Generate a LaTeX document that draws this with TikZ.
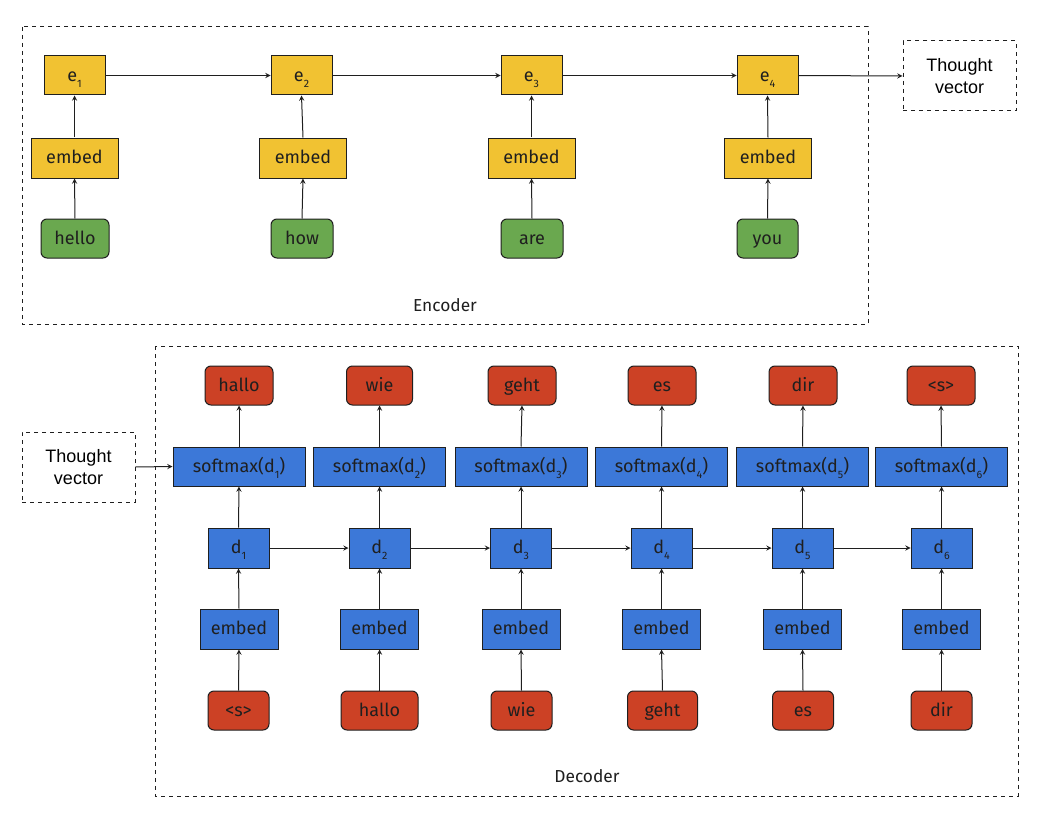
\documentclass[tikz,border=0pt]{standalone}
\usepackage{fontspec}
\setmainfont{Fira Sans}
\newfontfamily\arialfont{Liberation Sans}
\usetikzlibrary{arrows.meta}
\definecolor{encyellow}{HTML}{F1C232}
\definecolor{wordgreen}{HTML}{6AA84F}
\definecolor{decblue}{HTML}{3C78D8}
\definecolor{wordred}{HTML}{CC4125}
\definecolor{inkdark}{HTML}{1F1F1F}
\newcommand{\px}{0.75pt}
\newcommand{\sub}[1]{\raisebox{-0.6ex}{\footnotesize #1}}

\tikzset{
    box/.style={draw=inkdark, line width=\px, inner sep=0pt, text=inkdark,
        font=\fontsize{13.5}{16}\selectfont, text height=1.8ex, text depth=0.1ex,
        minimum height=39*\px},
    encstate/.style={box, fill=encyellow, minimum width=61*\px},
    encembed/.style={box, fill=encyellow, minimum width=87*\px, minimum height=40*\px},
    encword/.style={box, fill=wordgreen, rounded corners=4.5pt, minimum width=68*\px},
    decword/.style={box, fill=wordred, rounded corners=4.5pt, minimum width=61*\px},
    decsoft/.style={box, fill=decblue, minimum width=132*\px},
    decstate/.style={box, fill=decblue, minimum width=61*\px, minimum height=40*\px},
    decembed/.style={box, fill=decblue, minimum width=78*\px, minimum height=40*\px},
    thought/.style={draw=inkdark, dashed, line width=\px, align=center, inner sep=0pt,
        minimum width=113*\px, minimum height=70*\px,
        font=\arialfont\fontsize{13.5}{16.5}\selectfont},
    frame/.style={draw=inkdark, dashed, line width=\px},
    link/.style={-stealth, line width=\px, draw=inkdark},
}

\begin{document}
\begin{tikzpicture}[x=\px, y=-\px]
    \useasboundingbox (0,0) rectangle (1043,824);

    % encoder
    \draw[frame] (22,27) rectangle (868,324);
    \node[font=\fontsize{13}{15}\selectfont, text=inkdark] (enclabel) at (445,305) {Encoder};

    \node[encstate] (e1) at (74.5,75.5) {e\sub{1}};
    \node[encstate] (e2) at (301.5,75.5) {e\sub{2}};
    \node[encstate] (e3) at (531.5,75.5) {e\sub{3}};
    \node[encstate] (e4) at (767.5,75.5) {e\sub{4}};

    \node[encembed] (embed1) at (74.5,158) {embed};
    \node[encembed] (embed2) at (303,158) {embed};
    \node[encembed] (embed3) at (531.5,158) {embed};
    \node[encembed] (embed4) at (768,158) {embed};

    \node[encword] (hello) at (75,238.5) {hello};
    \node[encword, minimum width=62*\px] (how) at (302,238.5) {how};
    \node[encword, minimum width=62*\px] (are) at (532,238.5) {are};
    \node[encword, minimum width=61*\px] (you) at (767.5,238.5) {you};

    \node[thought] (thought1) at (959.5,76) {Thought\\vector};

    \draw[link] (hello.north) -- (embed1.south);
    \draw[link] (how.north) -- (embed2.south);
    \draw[link] (are.north) -- (embed3.south);
    \draw[link] (you.north) -- (embed4.south);
    \draw[link] (embed1.north) -- (e1.south);
    \draw[link] (embed2.north) -- (e2.south);
    \draw[link] (embed3.north) -- (e3.south);
    \draw[link] (embed4.north) -- (e4.south);
    \draw[link] (e1.east) -- (e2.west);
    \draw[link] (e2.east) -- (e3.west);
    \draw[link] (e3.east) -- (e4.west);
    \draw[link] (e4.east) -- (thought1.west);

    % decoder
    \draw[frame] (155,346) rectangle (1018,796);
    \node[font=\fontsize{13}{15}\selectfont, text=inkdark] (declabel) at (587,776) {Decoder};

    \node[thought] (thought2) at (78.5,467) {Thought\\vector};

    \node[decword, minimum width=68*\px] (out1) at (239,385.5) {hallo};
    \node[decword, minimum width=66*\px] (out2) at (379.5,385.5) {wie};
    \node[decword, minimum width=68*\px] (out3) at (522,385.5) {geht};
    \node[decword, minimum width=68*\px] (out4) at (662,385.5) {es};
    \node[decword, minimum width=68*\px] (out5) at (803,385.5) {dir};
    \node[decword, minimum width=68*\px] (out6) at (941,385.5) {<s>};

    \node[decsoft] (soft1) at (239,466.5) {softmax(d\sub{1})};
    \node[decsoft] (soft2) at (379.5,466.5) {softmax(d\sub{2})};
    \node[decsoft] (soft3) at (521,466.5) {softmax(d\sub{3})};
    \node[decsoft] (soft4) at (661.5,466.5) {softmax(d\sub{4})};
    \node[decsoft] (soft5) at (802.5,466.5) {softmax(d\sub{5})};
    \node[decsoft] (soft6) at (941.5,466.5) {softmax(d\sub{6})};

    \node[decstate] (d1) at (238.5,548) {d\sub{1}};
    \node[decstate] (d2) at (379.5,548) {d\sub{2}};
    \node[decstate] (d3) at (521,548) {d\sub{3}};
    \node[decstate] (d4) at (661.5,548) {d\sub{4}};
    \node[decstate] (d5) at (802.5,548) {d\sub{5}};
    \node[decstate] (d6) at (941.5,548) {d\sub{6}};

    \node[decembed] (dembed1) at (239,629) {embed};
    \node[decembed] (dembed2) at (379.5,629) {embed};
    \node[decembed] (dembed3) at (521,629) {embed};
    \node[decembed] (dembed4) at (661.5,629) {embed};
    \node[decembed] (dembed5) at (802.5,629) {embed};
    \node[decembed] (dembed6) at (941.5,629) {embed};

    \node[decword] (in1) at (238.5,710.5) {<s>};
    \node[decword, minimum width=77*\px] (in2) at (379.5,710.5) {hallo};
    \node[decword] (in3) at (521.5,710.5) {wie};
    \node[decword, minimum width=70*\px] (in4) at (662.5,710.5) {geht};
    \node[decword] (in5) at (803,710.5) {es};
    \node[decword] (in6) at (941.5,710.5) {dir};

    \draw[link] (thought2.east) -- (soft1.west);
    \draw[link] (in1.north) -- (dembed1.south);
    \draw[link] (in2.north) -- (dembed2.south);
    \draw[link] (in3.north) -- (dembed3.south);
    \draw[link] (in4.north) -- (dembed4.south);
    \draw[link] (in5.north) -- (dembed5.south);
    \draw[link] (in6.north) -- (dembed6.south);
    \draw[link] (dembed1.north) -- (d1.south);
    \draw[link] (dembed2.north) -- (d2.south);
    \draw[link] (dembed3.north) -- (d3.south);
    \draw[link] (dembed4.north) -- (d4.south);
    \draw[link] (dembed5.north) -- (d5.south);
    \draw[link] (dembed6.north) -- (d6.south);
    \draw[link] (d1.north) -- (soft1.south);
    \draw[link] (d2.north) -- (soft2.south);
    \draw[link] (d3.north) -- (soft3.south);
    \draw[link] (d4.north) -- (soft4.south);
    \draw[link] (d5.north) -- (soft5.south);
    \draw[link] (d6.north) -- (soft6.south);
    \draw[link] (soft1.north) -- (out1.south);
    \draw[link] (soft2.north) -- (out2.south);
    \draw[link] (soft3.north) -- (out3.south);
    \draw[link] (soft4.north) -- (out4.south);
    \draw[link] (soft5.north) -- (out5.south);
    \draw[link] (soft6.north) -- (out6.south);
    \draw[link] (d1.east) -- (d2.west);
    \draw[link] (d2.east) -- (d3.west);
    \draw[link] (d3.east) -- (d4.west);
    \draw[link] (d4.east) -- (d5.west);
    \draw[link] (d5.east) -- (d6.west);

\end{tikzpicture}
\end{document}
